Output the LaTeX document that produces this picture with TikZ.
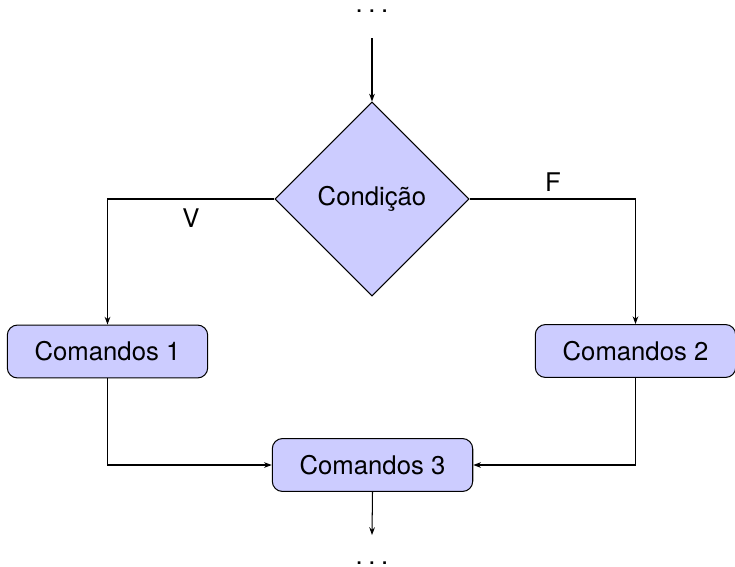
\documentclass[tikz,border=0pt]{standalone}
\usepackage{fontspec}
\setmainfont{TeX Gyre Heros}
\usetikzlibrary{shapes.geometric,arrows.meta}
\tikzset{
  block/.style={rectangle, rounded corners=4pt, draw=black, fill=blue!20,
    minimum width=78pt, minimum height=20.6pt, inner sep=0pt},
  decision/.style={diamond, aspect=1, draw=black, fill=blue!20,
    minimum width=75.5pt, minimum height=75.5pt, inner sep=0pt},
  ellipsisnode/.style={anchor=base, inner sep=0pt},
  lbl/.style={inner sep=0pt},
  arr/.style={-{Stealth[length=3pt,width=2.2pt]}}
}
\newcommand{\tridots}{.\kern2.2pt.\kern2.2pt.}
\begin{document}
\begin{tikzpicture}[x=0.3891pt,y=-0.3891pt]
  \useasboundingbox (0,0) rectangle (735,566);

  % nodes
  \node[ellipsisnode] (top) at (372,12) {\tridots};
  \node[decision] (cond) at (372,199) {Condição};
  \node[block] (c1) at (107.5,351.5) {Comandos 1};
  \node[block] (c2) at (635.5,351) {Comandos 2};
  \node[block] (c3) at (372.5,465) {Comandos 3};
  \node[ellipsisnode] (bot) at (372,564) {\tridots};

  % free ends of the entry and exit arrows
  \coordinate (inflow) at (372,38);
  \coordinate (outflow) at (372,535);

  % branch labels
  \node[lbl] (v) at (191,218) {V};
  \node[lbl] (f) at (553,182) {F};

  % connectors
  \draw[arr] (inflow) -- (cond.north);
  \draw[arr] (cond.west) -| (c1.north);
  \draw[arr] (cond.east) -| (c2.north);
  \draw[arr] (c1.south) |- (c3.west);
  \draw[arr] (c2.south) |- (c3.east);
  \draw[arr] (c3.south) -- (outflow);
\end{tikzpicture}
\end{document}
